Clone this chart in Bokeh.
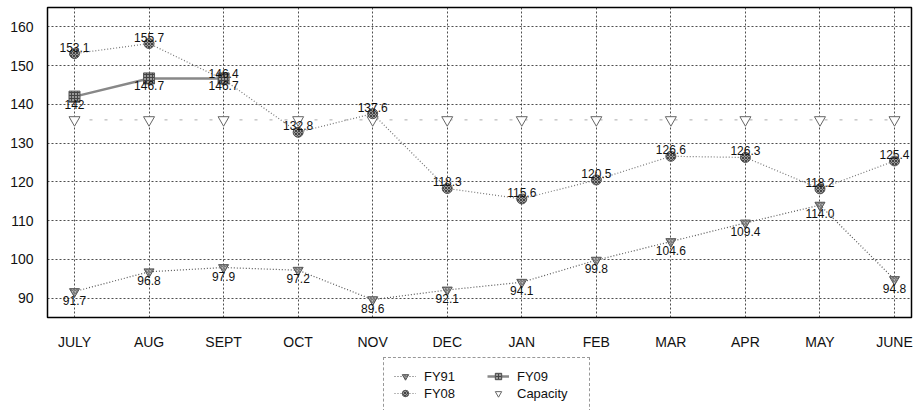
from bokeh.plotting import figure
from bokeh.layouts import column
from bokeh.models import (ColumnDataSource, Legend, LegendItem, FixedTicker,
                          Range1d, LabelSet)
from bokeh.core.properties import value
from bokeh.embed import file_html
from bokeh.resources import INLINE

months = ["JULY", "AUG", "SEPT", "OCT", "NOV", "DEC", "JAN", "FEB", "MAR", "APR", "MAY", "JUNE"]
fy91 = [91.7, 96.8, 97.9, 97.2, 89.6, 92.1, 94.1, 99.8, 104.6, 109.4, 114.0, 94.8]
fy08 = [153.1, 155.7, 146.4, 132.8, 137.6, 118.3, 115.6, 120.5, 126.6, 126.3, 118.2, 125.4]
fy09 = [142.0, 146.7, 146.7]
capacity = [136, 136, 136, 136, 136, 136, 136, 136, 136, 136, 136, 136]
y_ticks = [90, 100, 110, 120, 130, 140, 150, 160]

xs = list(range(len(months)))

src91 = ColumnDataSource(dict(x=xs, y=fy91, t=[f"{v:.1f}" for v in fy91]))
src08 = ColumnDataSource(dict(x=xs, y=fy08, t=[f"{v:.1f}" for v in fy08]))
src09 = ColumnDataSource(dict(x=xs[:len(fy09)], y=fy09, t=[f"{v:g}" for v in fy09]))
srccap = ColumnDataSource(dict(x=xs, y=capacity))

FONT = "Liberation Sans"

p = figure(width=913, height=352,
           x_range=Range1d(-0.3622, 11.228), y_range=Range1d(85, 165),
           output_backend="svg", toolbar_location=None,
           min_border_left=47, min_border_right=2, min_border_top=7, min_border_bottom=34)

# axes
p.xaxis.ticker = FixedTicker(ticks=xs)
p.xaxis.major_label_overrides = {i: m for i, m in enumerate(months)}
p.yaxis.ticker = FixedTicker(ticks=y_ticks)
for ax in (p.xaxis, p.yaxis):
    ax.axis_line_color = None
    ax.major_tick_line_color = None
    ax.minor_tick_line_color = None
    ax.major_tick_out = 0
    ax.major_tick_in = 0
    ax.minor_tick_out = 0
    ax.major_label_text_font = FONT
    ax.major_label_text_font_size = "14px"
    ax.major_label_text_color = "#111111"
p.xaxis.major_label_standoff = 16
p.yaxis.major_label_standoff = 14

# grid
p.xgrid.ticker = FixedTicker(ticks=xs)
p.ygrid.ticker = FixedTicker(ticks=y_ticks)
for g in (p.xgrid, p.ygrid):
    g.grid_line_color = "#222222"
    g.grid_line_dash = "2 2"
    g.grid_line_width = 1
    g.grid_line_alpha = 0.8

p.outline_line_color = "black"
p.outline_line_width = 1.5
p.background_fill_color = "white"
p.border_fill_color = "white"

STY = {
    "cap_line": dict(line_color="#aaaaaa", line_dash="3 12", line_width=1),
    "cap_pts": dict(marker="inverted_triangle", size=11, fill_color="white",
                    line_color="#666666", line_width=1),
    "l91": dict(line_color="#555555", line_dash="1 2", line_width=1.2),
    "m91": dict(marker="inverted_triangle", size=10, fill_color="#bbbbbb",
                line_color="#555555", line_width=1, hatch_pattern="/",
                hatch_color="#666666", hatch_scale=3),
    "l08": dict(line_color="#777777", line_dash="1 2", line_width=1.2),
    "m08": dict(marker="circle", size=10, fill_color="#999999", line_color="#555555",
                line_width=1, hatch_pattern="x", hatch_color="#444444", hatch_scale=3),
    "l09": dict(line_color="#888888", line_width=2.5),
    "m09": dict(marker="square", size=11, fill_color="#999999", line_color="#555555",
                line_width=1, hatch_pattern="+", hatch_color="#444444", hatch_scale=3),
}

p.line("x", "y", source=srccap, **STY["cap_line"])
p.scatter("x", "y", source=srccap, **STY["cap_pts"])
p.line("x", "y", source=src91, **STY["l91"])
p.scatter("x", "y", source=src91, **STY["m91"])
p.line("x", "y", source=src08, **STY["l08"])
p.scatter("x", "y", source=src08, **STY["m08"])
p.line("x", "y", source=src09, **STY["l09"])
p.scatter("x", "y", source=src09, **STY["m09"])

lab_style = dict(text_align="center", text_font_size=value("12px"),
                 text_color=value("#111111"), text_font=value(FONT))
p.add_layout(LabelSet(x="x", y="y", text="t", source=src91, y_offset=-4,
                      text_baseline="top", **lab_style))
p.add_layout(LabelSet(x="x", y="y", text="t", source=src08, y_offset=2,
                      text_baseline="bottom", **lab_style))
p.add_layout(LabelSet(x="x", y="y", text="t", source=src09, y_offset=-3,
                      text_baseline="top", **lab_style))

# legend strip: a separate figure below the chart; its proxy renderers sit
# outside the visible range so only the legend entries show
lg = figure(width=913, height=58, x_range=Range1d(0, 1), y_range=Range1d(0, 1),
            output_backend="svg", toolbar_location=None,
            x_axis_type=None, y_axis_type=None,
            min_border_left=47, min_border_right=2, min_border_top=0, min_border_bottom=0)
lg.xgrid.visible = False
lg.ygrid.visible = False
lg.outline_line_color = None
lg.border_fill_color = "white"
lg.background_fill_color = "white"

def proxy():
    return ColumnDataSource(dict(x=[-10], y=[-10]))

e91, e08, e09, ecap = proxy(), proxy(), proxy(), proxy()
r_l91 = lg.line("x", "y", source=e91, **STY["l91"])
r_m91 = lg.scatter("x", "y", source=e91, **STY["m91"])
r_l08 = lg.line("x", "y", source=e08, **STY["l08"])
r_m08 = lg.scatter("x", "y", source=e08, **STY["m08"])
r_l09 = lg.line("x", "y", source=e09, **STY["l09"])
r_m09 = lg.scatter("x", "y", source=e09, **STY["m09"])
r_cap = lg.scatter("x", "y", source=ecap, **STY["cap_pts"])

legend = Legend(items=[
    LegendItem(label="FY91", renderers=[r_l91, r_m91]),
    LegendItem(label="FY08", renderers=[r_l08, r_m08]),
    LegendItem(label="FY09", renderers=[r_l09, r_m09]),
    LegendItem(label="Capacity", renderers=[r_cap]),
], ncols=2, orientation="vertical", location=(336, -2),
    label_text_font=FONT, label_text_font_size="13px", label_text_color="#111111",
    glyph_width=22, glyph_height=16, label_height=16, label_width=62,
    spacing=1, padding=10, label_standoff=8, margin=0,
    border_line_color="#333333", border_line_dash="2 2", border_line_width=1,
    background_fill_color="white")
lg.add_layout(legend, "center")

layout = column(p, lg, spacing=0)
open("out.html", "w").write(file_html(layout, INLINE))
